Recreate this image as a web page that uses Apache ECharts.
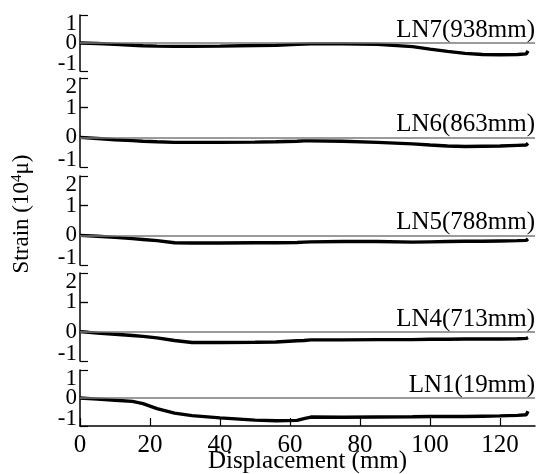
<!DOCTYPE html>
<html>
<head>
<meta charset="utf-8">
<script src="https://cdn.jsdelivr.net/npm/echarts@6/dist/echarts.min.js"></script>
<style>
  html, body { margin: 0; padding: 0; background: #fff; }
  #chart { width: 541px; height: 474px; }
</style>
</head>
<body>
<div id="chart"></div>
<script>
// Displacement sample points (mm), shared by every gauge line
const displacement = [0, 5, 10, 15, 18, 22, 27, 32, 40, 50, 56, 62, 64, 66, 75, 85, 95, 100, 105, 110, 115, 120, 125, 127.5, 128];

// Strain readings (10^4 μ) per gauge line, top panel first
const ln7 = [0, -0.02, -0.05, -0.08, -0.10, -0.11, -0.12, -0.12, -0.11, -0.09, -0.08, -0.05, -0.04, -0.03, -0.03, -0.05, -0.13, -0.22, -0.30, -0.37, -0.41, -0.42, -0.41, -0.39, -0.28];
const ln6 = [0, -0.04, -0.08, -0.11, -0.13, -0.15, -0.17, -0.17, -0.17, -0.16, -0.15, -0.13, -0.12, -0.12, -0.13, -0.17, -0.22, -0.26, -0.29, -0.31, -0.30, -0.29, -0.27, -0.26, -0.20];
const ln5 = [0, -0.03, -0.07, -0.11, -0.14, -0.18, -0.25, -0.26, -0.26, -0.25, -0.25, -0.24, -0.23, -0.22, -0.21, -0.21, -0.23, -0.22, -0.21, -0.20, -0.20, -0.19, -0.18, -0.17, -0.12];
const ln4 = [0, -0.05, -0.09, -0.13, -0.16, -0.21, -0.30, -0.37, -0.37, -0.36, -0.35, -0.31, -0.30, -0.28, -0.28, -0.27, -0.27, -0.26, -0.26, -0.25, -0.25, -0.25, -0.24, -0.23, -0.20];
const ln1 = [0, -0.04, -0.08, -0.12, -0.20, -0.38, -0.54, -0.63, -0.71, -0.79, -0.81, -0.80, -0.74, -0.68, -0.69, -0.68, -0.67, -0.66, -0.66, -0.66, -0.65, -0.64, -0.62, -0.60, -0.47];

const panelNames = ['LN7(938mm)', 'LN6(863mm)', 'LN5(788mm)', 'LN4(713mm)', 'LN1(19mm)'];
const panelValues = [ln7, ln6, ln5, ln4, ln1];
const panelMax = [1, 2, 2, 2, 1];
const panelMin = [-1, -1, -1, -1, -1];

const xTicks = { min: 0, max: 130, interval: 20 };

// vertical placement of the stacked panels (px)
const panelBoxes = [
  { top: 15, height: 56 },
  { top: 78, height: 89 },
  { top: 176, height: 89 },
  { top: 273, height: 88 },
  { top: 370, height: 56 }
];

const serif = '"Liberation Serif", "Times New Roman", serif';
const tickFont = { color: '#000', fontFamily: serif, fontSize: 23 };
const innerTicks = { show: true, inside: true, length: 8, lineStyle: { color: '#000', width: 1.2 } };

const grids = [], xAxes = [], yAxes = [], series = [];
panelValues.forEach((vals, i) => {
  const last = i === panelValues.length - 1;
  const yMin = panelMin[i], yMax = panelMax[i];
  grids.push({
    left: 80, width: 455, top: panelBoxes[i].top, height: panelBoxes[i].height,
    containLabel: false, outerBoundsMode: 'none'
  });
  xAxes.push({
    gridIndex: i, type: 'value', min: xTicks.min, max: xTicks.max, interval: xTicks.interval,
    show: last,
    position: 'bottom',
    axisLine: { show: true, onZero: false, lineStyle: { color: '#000', width: 1.5 } },
    axisTick: innerTicks,
    axisLabel: { show: true, showMinLabel: true, showMaxLabel: false, color: '#000', fontFamily: serif, fontSize: 25, margin: 7 },
    splitLine: { show: false },
    name: last ? 'Displacement (mm)' : '',
    nameLocation: 'middle', nameGap: 23, nameMoveOverlap: false,
    nameTextStyle: { color: '#000', fontFamily: serif, fontSize: 25 }
  });
  // main strain axis: line, ticks and the inner tick labels
  yAxes.push({
    gridIndex: i, type: 'value', min: yMin, max: yMax, interval: 1, position: 'left',
    axisLine: { show: true, lineStyle: { color: '#000', width: 1.5 } },
    axisTick: innerTicks,
    axisLabel: Object.assign({ margin: 3, showMinLabel: false, showMaxLabel: false }, tickFont),
    splitLine: { show: false }
  });
  // companion axis carrying the end ticks and end labels, tucked inside the panel span
  yAxes.push({
    gridIndex: i, type: 'value', min: yMin, max: yMax, interval: 1, position: 'left', offset: 0,
    axisLine: { show: false }, axisTick: innerTicks, splitLine: { show: false },
    axisLabel: Object.assign({
      margin: 3, showMinLabel: true, showMaxLabel: true,
      formatter: v => v === yMax ? '{hi|' + v + '}' : (v === yMin ? '{lo|' + v + '}' : ''),
      rich: {
        hi: Object.assign({ padding: [17, 0, 0, 0] }, tickFont),
        lo: Object.assign({ padding: [0, 0, 14, 0] }, tickFont)
      }
    }, tickFont)
  });
  series.push({
    type: 'line', xAxisIndex: i, yAxisIndex: 2 * i,
    data: displacement.map((d, k) => [d, vals[k]]),
    showSymbol: false, smooth: false,
    lineStyle: { color: '#000', width: 3.4 },
    markLine: {
      silent: true, symbol: 'none', animation: false,
      lineStyle: { color: '#7a7a7a', width: 1.6, type: 'solid' },
      label: {
        show: true, position: 'insideEndTop', formatter: panelNames[i],
        color: '#000', fontFamily: serif, fontSize: 25, distance: [0, 0]
      },
      data: [{ yAxis: 0 }]
    },
    z: 3
  });
});

const chart = echarts.init(document.getElementById('chart'), null, { renderer: 'canvas' });
chart.setOption({
  animation: false,
  backgroundColor: '#fff',
  grid: grids,
  xAxis: xAxes,
  yAxis: yAxes,
  series: series,
  graphic: [{
    type: 'text',
    x: 22, y: 214,
    rotation: Math.PI / 2,
    style: {
      text: 'Strain (10{sup|4}μ)',
      fill: '#000',
      font: '23px ' + serif,
      align: 'center',
      verticalAlign: 'middle',
      rich: {
        sup: { fontSize: 15, fontFamily: serif, fill: '#000', padding: [0, 0, 9, 0] }
      }
    }
  }]
});
</script>
</body>
</html>
